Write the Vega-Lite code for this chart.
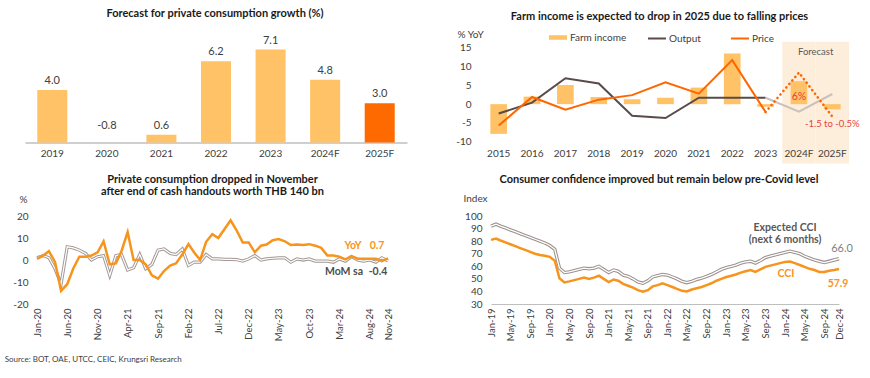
{
  "$schema": "https://vega.github.io/schema/vega-lite/v6.json",
  "padding": {"left": 4, "top": 8, "right": 2, "bottom": 2},
  "background": "white",
  "config": {
    "font": "Lato",
    "view": {"stroke": null},
    "axis": {"labelColor": "#404040", "labelFont": "Lato", "grid": false, "ticks": false, "domain": false, "labelFontSize": 10, "labelOverlap": false, "minExtent": 0},
    "title": {"font": "Lato", "fontSize": 11, "fontWeight": "bold", "color": "#1a1a1a", "anchor": "middle"},
    "legend": {"labelFont": "Lato", "labelFontSize": 10, "labelColor": "#404040"}
  },
  "title": {"text": "Source: BOT,  OAE, UTCC, CEIC,  Krungsri Research", "orient": "bottom", "anchor": "start", "fontSize": 8, "fontWeight": "normal", "color": "#404040", "offset": 15, "dx": -8},
  "spacing": 10,
  "resolve": {"scale": {"color": "independent", "fill": "independent", "stroke": "independent"}, "legend": {"color": "independent", "fill": "independent", "stroke": "independent"}},
  "vconcat": [
    {
      "spacing": 36,
      "resolve": {"scale": {"color": "independent", "fill": "independent", "stroke": "independent"}, "legend": {"color": "independent", "fill": "independent", "stroke": "independent"}},
      "hconcat": [
        {
          "width": 370,
          "height": 98.5,
          "title": {"text": "Forecast for private consumption growth (%)", "offset": 15.5, "dx": -7},
          "data": {"values": [
            {"year": "2019", "value": 4.0, "type": "actual"},
            {"year": "2020", "value": -0.8, "type": "actual"},
            {"year": "2021", "value": 0.6, "type": "actual"},
            {"year": "2022", "value": 6.2, "type": "actual"},
            {"year": "2023", "value": 7.1, "type": "actual"},
            {"year": "2024F", "value": 4.8, "type": "actual"},
            {"year": "2025F", "value": 3.0, "type": "forecast"}
          ]},
          "transform": [
            {"calculate": "max(datum.value, 0.55)", "as": "labelY"},
            {"calculate": "replace(format(datum.value, '.1f'), '\u2212', '-')", "as": "label"}
          ],
          "encoding": {
            "x": {"field": "year", "type": "nominal", "sort": null, "scale": {"paddingInner": 0, "paddingOuter": 0, "range": [-12, 370]},
                  "axis": {"title": null, "labelAngle": 0, "domain": true, "domainColor": "#BFBFBF", "domainWidth": 1.5, "labelPadding": 6}}
          },
          "layer": [
            {
              "mark": {"type": "bar", "width": {"band": 0.55}},
              "encoding": {
                "y": {"field": "value", "type": "quantitative", "scale": {"domain": [0, 7.52], "nice": false, "zero": false, "clamp": true}, "axis": null},
                "color": {"field": "type", "type": "nominal", "scale": {"domain": ["actual", "forecast"], "range": ["#FFC266", "#FF6A00"]}, "legend": null}
              }
            },
            {
              "mark": {"type": "text", "dy": -9, "fontSize": 11, "color": "#404040"},
              "encoding": {
                "y": {"field": "labelY", "type": "quantitative", "axis": null},
                "text": {"field": "label", "type": "nominal"}
              }
            }
          ]
        },
        {
          "width": 367,
          "height": 101.5,
          "title": {"text": "Farm income is expected to drop in 2025 due to falling prices", "offset": 7, "dx": -6},
          "encoding": {
            "x": {"field": "year", "type": "nominal",
                  "scale": {"domain": ["2015", "2016", "2017", "2018", "2019", "2020", "2021", "2022", "2023", "2024F", "2025F"], "paddingInner": 0, "paddingOuter": 0},
                  "axis": {"title": null, "labelAngle": 0, "labelPadding": 3, "zindex": 1}}
          },
          "layer": [
            {
              "data": {"values": [{"year": "2024F"}, {"year": "2025F"}]},
              "mark": {"type": "bar", "width": {"band": 1}, "clip": false, "color": "#FDEEDC"},
              "encoding": {
                "y": {"datum": 16.6, "type": "quantitative", "scale": {"domain": [-11, 16], "nice": false},
                      "axis": {"title": "% YoY", "values": [-10, -5, 0, 5, 10, 15], "tickCount": 20, "labelExpr": "replace(datum.label, '\u2212', '-')", "labelOverlap": false, "titleAngle": 0, "titleX": -25, "titleY": -10, "titleAlign": "left", "titleBaseline": "middle", "titleFontWeight": "normal", "titleFontSize": 10, "titleColor": "#404040", "titleFont": "Lato", "labelPadding": 11}},
                "y2": {"datum": -15.8}
              }
            },
            {
              "data": {"values": [{"year": "2025F"}]},
              "mark": {"type": "text", "fontSize": 9.5, "color": "#595959"},
              "encoding": {
                "x": {"field": "year", "type": "nominal", "bandPosition": 0},
                "y": {"datum": 14},
                "text": {"value": "Forecast"}
              }
            },
            {
              "data": {"values": [{}]},
              "mark": {"type": "rule", "color": "#BFBFBF", "strokeWidth": 1.5},
              "encoding": {"y": {"datum": 0}}
            },
            {
              "data": {"values": [
                {"year": "2015", "v": -7.9, "s": "Farm income"},
                {"year": "2016", "v": 2.0, "s": "Farm income"},
                {"year": "2017", "v": 5.1, "s": "Farm income"},
                {"year": "2018", "v": 1.9, "s": "Farm income"},
                {"year": "2019", "v": 1.3, "s": "Farm income"},
                {"year": "2020", "v": 1.7, "s": "Farm income"},
                {"year": "2021", "v": 4.4, "s": "Farm income"},
                {"year": "2022", "v": 13.5, "s": "Farm income"},
                {"year": "2023", "v": -0.7, "s": "Farm income"},
                {"year": "2024F", "v": 6.1, "s": "Farm income"},
                {"year": "2025F", "v": -1.4, "s": "Farm income"}
              ]},
              "layer": [
                {
                  "mark": {"type": "bar", "width": {"band": 0.5}},
                  "encoding": {
                    "y": {"field": "v", "type": "quantitative"},
                    "fill": {"field": "s", "type": "nominal", "scale": {"domain": ["Farm income"], "range": ["#FFC266"]},
                             "legend": {"title": null, "orient": "none", "legendX": 67, "legendY": -15.5, "direction": "horizontal", "symbolType": "M-1,-0.25H1V0.25H-1Z", "symbolSize": 324, "symbolStrokeWidth": 0, "labelOffset": 3}}
                  }
                },
                {
                  "transform": [{"filter": "datum.year == '2024F'"}],
                  "mark": {"type": "text", "dy": 16, "fontSize": 10.5, "color": "#E0443A"},
                  "encoding": {"y": {"field": "v", "type": "quantitative"}, "text": {"value": "6%"}}
                },
                {
                  "transform": [{"filter": "datum.year == '2025F'"}],
                  "mark": {"type": "text", "dy": 15, "fontSize": 9.5, "color": "#E8423F"},
                  "encoding": {"y": {"field": "v", "type": "quantitative"}, "text": {"value": "-1.5 to -0.5%"}}
                }
              ]
            },
            {
              "data": {"values": [
                {"year": "2015", "series": "Output", "v": -2.5},
                {"year": "2016", "series": "Output", "v": 0.4},
                {"year": "2017", "series": "Output", "v": 6.9},
                {"year": "2018", "series": "Output", "v": 5.5},
                {"year": "2019", "series": "Output", "v": -3.1},
                {"year": "2020", "series": "Output", "v": -3.7},
                {"year": "2021", "series": "Output", "v": 1.7},
                {"year": "2022", "series": "Output", "v": 1.7},
                {"year": "2023", "series": "Output", "v": 1.7},
                {"year": "2015", "series": "Price", "v": -5.7},
                {"year": "2016", "series": "Price", "v": 1.9},
                {"year": "2017", "series": "Price", "v": -1.5},
                {"year": "2018", "series": "Price", "v": 1.2},
                {"year": "2019", "series": "Price", "v": 2.4},
                {"year": "2020", "series": "Price", "v": 5.8},
                {"year": "2021", "series": "Price", "v": 2.8},
                {"year": "2022", "series": "Price", "v": 11.7},
                {"year": "2023", "series": "Price", "v": -2.1}
              ]},
              "mark": {"type": "line", "strokeWidth": 2},
              "encoding": {
                "y": {"field": "v", "type": "quantitative"},
                "stroke": {"field": "series", "type": "nominal", "scale": {"domain": ["Output", "Price"], "range": ["#5A4B4B", "#FF6600"]},
                           "legend": {"title": null, "orient": "none", "legendX": 165, "legendY": -15.5, "direction": "horizontal", "symbolType": "stroke", "symbolSize": 324, "symbolStrokeWidth": 2, "labelOffset": 2, "columnPadding": 26}}
              }
            },
            {
              "data": {"values": [
                {"year": "2023", "v": 1.7},
                {"year": "2024F", "v": -2.0},
                {"year": "2025F", "v": 2.7}
              ]},
              "mark": {"type": "line", "strokeWidth": 2, "color": "#CBC1BB"},
              "encoding": {"y": {"field": "v", "type": "quantitative"}}
            },
            {
              "data": {"values": [
                {"year": "2023", "v": -2.1},
                {"year": "2024F", "v": 8.4},
                {"year": "2025F", "v": -3.3}
              ]},
              "mark": {"type": "line", "strokeWidth": 2.6, "color": "#FF6600", "strokeDash": [0.1, 4.5], "strokeCap": "round"},
              "encoding": {"y": {"field": "v", "type": "quantitative"}}
            }
          ]
        }
      ]
    },
    {
      "spacing": 68,
      "hconcat": [
        {
          "width": 351,
          "height": 88,
          "title": {"text": ["Private consumption dropped in November", "after end of cash handouts worth THB 140 bn"], "offset": -3, "lineHeight": 12},
          "data": {"values": [
            {"d": "2020/01/01", "yoy": 0.5, "mom": 1},
            {"d": "2020/02/01", "yoy": 2, "mom": 2},
            {"d": "2020/03/01", "yoy": 4, "mom": 1},
            {"d": "2020/04/01", "yoy": -1, "mom": -4},
            {"d": "2020/05/01", "yoy": -14, "mom": -11},
            {"d": "2020/06/01", "yoy": -11, "mom": 6},
            {"d": "2020/07/01", "yoy": -4, "mom": 5.5},
            {"d": "2020/08/01", "yoy": 1.5, "mom": 4.5},
            {"d": "2020/09/01", "yoy": 1.5, "mom": 3},
            {"d": "2020/10/01", "yoy": 2, "mom": 0},
            {"d": "2020/11/01", "yoy": 3.5, "mom": 1.5},
            {"d": "2020/12/01", "yoy": 8.5, "mom": 2},
            {"d": "2021/01/01", "yoy": -2, "mom": -7},
            {"d": "2021/02/01", "yoy": -1.5, "mom": 2},
            {"d": "2021/03/01", "yoy": 4, "mom": 2.5},
            {"d": "2021/04/01", "yoy": 12.7, "mom": -4.5},
            {"d": "2021/05/01", "yoy": 0, "mom": -3.5},
            {"d": "2021/06/01", "yoy": 0, "mom": 2.5},
            {"d": "2021/07/01", "yoy": -2, "mom": -4},
            {"d": "2021/08/01", "yoy": -7, "mom": -2},
            {"d": "2021/09/01", "yoy": -8.5, "mom": 4.5},
            {"d": "2021/10/01", "yoy": -5, "mom": 5},
            {"d": "2021/11/01", "yoy": -2.5, "mom": 3},
            {"d": "2021/12/01", "yoy": -1.5, "mom": 2.5},
            {"d": "2022/01/01", "yoy": 2.5, "mom": 5},
            {"d": "2022/02/01", "yoy": 7.2, "mom": -2.5},
            {"d": "2022/03/01", "yoy": 3.5, "mom": -1},
            {"d": "2022/04/01", "yoy": 0, "mom": -1},
            {"d": "2022/05/01", "yoy": 8.3, "mom": 2.5},
            {"d": "2022/06/01", "yoy": 11.7, "mom": 0.5},
            {"d": "2022/07/01", "yoy": 10, "mom": 0.5},
            {"d": "2022/08/01", "yoy": 14, "mom": 0.3},
            {"d": "2022/09/01", "yoy": 18, "mom": 0.3},
            {"d": "2022/10/01", "yoy": 13.5, "mom": 0.2},
            {"d": "2022/11/01", "yoy": 8, "mom": -0.5},
            {"d": "2022/12/01", "yoy": 8, "mom": 0.5},
            {"d": "2023/01/01", "yoy": 3.5, "mom": 2},
            {"d": "2023/02/01", "yoy": 6.5, "mom": 0},
            {"d": "2023/03/01", "yoy": 7, "mom": 0.5},
            {"d": "2023/04/01", "yoy": 9, "mom": 0.8},
            {"d": "2023/05/01", "yoy": 9.5, "mom": 1},
            {"d": "2023/06/01", "yoy": 8.5, "mom": 1},
            {"d": "2023/07/01", "yoy": 6.8, "mom": -1},
            {"d": "2023/08/01", "yoy": 7, "mom": 0.5},
            {"d": "2023/09/01", "yoy": 6.8, "mom": 0},
            {"d": "2023/10/01", "yoy": 7.2, "mom": 0.5},
            {"d": "2023/11/01", "yoy": 6.5, "mom": -0.5},
            {"d": "2023/12/01", "yoy": 5.5, "mom": -0.5},
            {"d": "2024/01/01", "yoy": 2, "mom": -0.5},
            {"d": "2024/02/01", "yoy": 2, "mom": -1},
            {"d": "2024/03/01", "yoy": 1.5, "mom": 0.5},
            {"d": "2024/04/01", "yoy": 0.3, "mom": -0.5},
            {"d": "2024/05/01", "yoy": 1.8, "mom": 1.5},
            {"d": "2024/06/01", "yoy": 0.6, "mom": 0},
            {"d": "2024/07/01", "yoy": 0.6, "mom": -0.5},
            {"d": "2024/08/01", "yoy": 0.6, "mom": 0},
            {"d": "2024/09/01", "yoy": 0.6, "mom": -1},
            {"d": "2024/10/01", "yoy": -0.5, "mom": 1},
            {"d": "2024/11/01", "yoy": 0.7, "mom": -0.4}
          ]},
          "transform": [
            {"calculate": "replace(format(datum.yoy, '.1f'), '\u2212', '-')", "as": "yoyLabel"},
            {"calculate": "replace(format(datum.mom, '.1f'), '\u2212', '-')", "as": "momLabel"}
          ],
          "encoding": {
            "x": {"field": "d", "type": "temporal",
                  "scale": {"domain": [{"year": 2020, "month": 1, "date": 1}, {"year": 2024, "month": 11, "date": 1}]},
                  "axis": {"title": null, "format": "%b-%y", "labelAngle": -90, "labelPadding": 4, "labelFontSize": 9.5, "labelOverlap": false, "tickCount": 60,
                           "values": [
                             {"year": 2020, "month": 1, "date": 1}, {"year": 2020, "month": 6, "date": 1}, {"year": 2020, "month": 11, "date": 1},
                             {"year": 2021, "month": 4, "date": 1}, {"year": 2021, "month": 9, "date": 1}, {"year": 2022, "month": 2, "date": 1},
                             {"year": 2022, "month": 7, "date": 1}, {"year": 2022, "month": 12, "date": 1}, {"year": 2023, "month": 5, "date": 1},
                             {"year": 2023, "month": 10, "date": 1}, {"year": 2024, "month": 3, "date": 1}, {"year": 2024, "month": 8, "date": 1},
                             {"year": 2024, "month": 11, "date": 1}
                           ]}}
          },
          "layer": [
            {
              "data": {"values": [{}]},
              "mark": {"type": "rule", "color": "#A6A6A6", "strokeWidth": 1.5},
              "encoding": {"y": {"datum": 0, "type": "quantitative", "scale": {"domain": [-20, 20], "nice": false},
                      "axis": {"title": "%", "values": [-20, -10, 0, 10, 20], "tickCount": 20, "labelExpr": "replace(datum.label, '\u2212', '-')", "labelOverlap": false, "titleAngle": 0, "titleX": -18, "titleY": -17, "titleAlign": "left", "titleBaseline": "middle", "titleFontWeight": "normal", "titleFontSize": 10, "titleColor": "#404040", "titleFont": "Lato", "labelPadding": 9}}}
            },
            {
              "mark": {"type": "line", "color": "#A39894", "strokeWidth": 3.2},
              "encoding": {"y": {"field": "mom", "type": "quantitative"}}
            },
            {
              "mark": {"type": "line", "color": "white", "strokeWidth": 1.2},
              "encoding": {"y": {"field": "mom", "type": "quantitative"}}
            },
            {
              "mark": {"type": "line", "color": "#F7941D", "strokeWidth": 2.5},
              "encoding": {"y": {"field": "yoy", "type": "quantitative"}}
            },
            {
              "transform": [{"filter": {"field": "d", "equal": {"year": 2024, "month": 11, "date": 1}}}],
              "layer": [
                {"mark": {"type": "text", "dx": -35, "dy": -12, "fontWeight": "bold", "fontSize": 10.5, "color": "#F7941D"},
                 "encoding": {"y": {"field": "yoy", "type": "quantitative"}, "text": {"value": "YoY"}}},
                {"mark": {"type": "text", "dx": -11, "dy": -12, "fontWeight": "bold", "fontSize": 10.5, "color": "#F7941D"},
                 "encoding": {"y": {"field": "yoy", "type": "quantitative"}, "text": {"field": "yoyLabel", "type": "nominal"}}},
                {"mark": {"type": "text", "dx": -44, "dy": 11, "fontWeight": "bold", "fontSize": 10.5, "color": "#4D4D4D"},
                 "encoding": {"y": {"field": "mom", "type": "quantitative"}, "text": {"value": "MoM sa"}}},
                {"mark": {"type": "text", "dx": -10, "dy": 11, "fontWeight": "bold", "fontSize": 10.5, "color": "#4D4D4D"},
                 "encoding": {"y": {"field": "mom", "type": "quantitative"}, "text": {"field": "momLabel", "type": "nominal"}}}
              ]
            }
          ]
        },
        {
          "width": 348,
          "height": 88,
          "title": {"text": "Consumer confidence improved but remain below pre-Covid level", "offset": 8, "dx": -6},
          "data": {"values": [
            {"d": "2019/01/01", "cci": 81, "exp": 92},
            {"d": "2019/02/01", "cci": 82, "exp": 93.5},
            {"d": "2019/03/01", "cci": 80.5, "exp": 92},
            {"d": "2019/04/01", "cci": 79, "exp": 90.5},
            {"d": "2019/05/01", "cci": 77.5, "exp": 89},
            {"d": "2019/06/01", "cci": 76, "exp": 87.5},
            {"d": "2019/07/01", "cci": 74.5, "exp": 86},
            {"d": "2019/08/01", "cci": 73, "exp": 84.5},
            {"d": "2019/09/01", "cci": 71.5, "exp": 83},
            {"d": "2019/10/01", "cci": 70, "exp": 81.5},
            {"d": "2019/11/01", "cci": 69, "exp": 80},
            {"d": "2019/12/01", "cci": 68.3, "exp": 78.5},
            {"d": "2020/01/01", "cci": 67.5, "exp": 76.5},
            {"d": "2020/02/01", "cci": 64.5, "exp": 73.5},
            {"d": "2020/03/01", "cci": 50.5, "exp": 58.5},
            {"d": "2020/04/01", "cci": 47.2, "exp": 55},
            {"d": "2020/05/01", "cci": 48, "exp": 55.5},
            {"d": "2020/06/01", "cci": 49, "exp": 56.5},
            {"d": "2020/07/01", "cci": 50, "exp": 57.5},
            {"d": "2020/08/01", "cci": 51, "exp": 58.5},
            {"d": "2020/09/01", "cci": 50, "exp": 58},
            {"d": "2020/10/01", "cci": 51, "exp": 58.5},
            {"d": "2020/11/01", "cci": 52.5, "exp": 60},
            {"d": "2020/12/01", "cci": 50, "exp": 57.5},
            {"d": "2021/01/01", "cci": 47.5, "exp": 55},
            {"d": "2021/02/01", "cci": 49.5, "exp": 57},
            {"d": "2021/03/01", "cci": 48.5, "exp": 56},
            {"d": "2021/04/01", "cci": 46, "exp": 53},
            {"d": "2021/05/01", "cci": 44.5, "exp": 52},
            {"d": "2021/06/01", "cci": 43, "exp": 50},
            {"d": "2021/07/01", "cci": 41, "exp": 47.5},
            {"d": "2021/08/01", "cci": 39.8, "exp": 46.5},
            {"d": "2021/09/01", "cci": 41, "exp": 48.5},
            {"d": "2021/10/01", "cci": 44, "exp": 51.5},
            {"d": "2021/11/01", "cci": 45, "exp": 52.5},
            {"d": "2021/12/01", "cci": 46.5, "exp": 53.5},
            {"d": "2022/01/01", "cci": 45, "exp": 53},
            {"d": "2022/02/01", "cci": 43.5, "exp": 51.5},
            {"d": "2022/03/01", "cci": 42, "exp": 50},
            {"d": "2022/04/01", "cci": 40.5, "exp": 48},
            {"d": "2022/05/01", "cci": 40, "exp": 47},
            {"d": "2022/06/01", "cci": 41.5, "exp": 48},
            {"d": "2022/07/01", "cci": 42.5, "exp": 49.5},
            {"d": "2022/08/01", "cci": 43.5, "exp": 50.5},
            {"d": "2022/09/01", "cci": 45, "exp": 52},
            {"d": "2022/10/01", "cci": 46.5, "exp": 53.5},
            {"d": "2022/11/01", "cci": 48.5, "exp": 55.5},
            {"d": "2022/12/01", "cci": 50, "exp": 57.5},
            {"d": "2023/01/01", "cci": 51.5, "exp": 59},
            {"d": "2023/02/01", "cci": 52.5, "exp": 60},
            {"d": "2023/03/01", "cci": 53.5, "exp": 61},
            {"d": "2023/04/01", "cci": 55, "exp": 62.5},
            {"d": "2023/05/01", "cci": 56, "exp": 63.5},
            {"d": "2023/06/01", "cci": 57, "exp": 64},
            {"d": "2023/07/01", "cci": 55.5, "exp": 62.5},
            {"d": "2023/08/01", "cci": 57.5, "exp": 64.5},
            {"d": "2023/09/01", "cci": 59.5, "exp": 67},
            {"d": "2023/10/01", "cci": 60.5, "exp": 68},
            {"d": "2023/11/01", "cci": 61.5, "exp": 69},
            {"d": "2023/12/01", "cci": 62.5, "exp": 70},
            {"d": "2024/01/01", "cci": 63.5, "exp": 71},
            {"d": "2024/02/01", "cci": 63.8, "exp": 72},
            {"d": "2024/03/01", "cci": 62.5, "exp": 71},
            {"d": "2024/04/01", "cci": 61, "exp": 70},
            {"d": "2024/05/01", "cci": 59.5, "exp": 68},
            {"d": "2024/06/01", "cci": 58, "exp": 66.5},
            {"d": "2024/07/01", "cci": 57, "exp": 65},
            {"d": "2024/08/01", "cci": 55.5, "exp": 64},
            {"d": "2024/09/01", "cci": 55.5, "exp": 63},
            {"d": "2024/10/01", "cci": 56.5, "exp": 64},
            {"d": "2024/11/01", "cci": 57, "exp": 65},
            {"d": "2024/12/01", "cci": 57.9, "exp": 66.0}
          ]},
          "encoding": {
            "x": {"field": "d", "type": "temporal",
                  "scale": {"domain": [{"year": 2019, "month": 1, "date": 1}, {"year": 2024, "month": 12, "date": 1}]},
                  "axis": {"title": null, "format": "%b-%y", "labelAngle": -90, "labelPadding": 4, "labelFontSize": 9.5, "labelOverlap": false, "tickCount": 80, "domain": true, "domainColor": "#BFBFBF",
                           "values": [
                             {"year": 2019, "month": 1, "date": 1}, {"year": 2019, "month": 5, "date": 1}, {"year": 2019, "month": 9, "date": 1},
                             {"year": 2020, "month": 1, "date": 1}, {"year": 2020, "month": 5, "date": 1}, {"year": 2020, "month": 9, "date": 1},
                             {"year": 2021, "month": 1, "date": 1}, {"year": 2021, "month": 5, "date": 1}, {"year": 2021, "month": 9, "date": 1},
                             {"year": 2022, "month": 1, "date": 1}, {"year": 2022, "month": 5, "date": 1}, {"year": 2022, "month": 9, "date": 1},
                             {"year": 2023, "month": 1, "date": 1}, {"year": 2023, "month": 5, "date": 1}, {"year": 2023, "month": 9, "date": 1},
                             {"year": 2024, "month": 1, "date": 1}, {"year": 2024, "month": 5, "date": 1}, {"year": 2024, "month": 9, "date": 1},
                             {"year": 2024, "month": 12, "date": 1}
                           ]}}
          },
          "layer": [
            {
              "mark": {"type": "line", "color": "#9C918D", "strokeWidth": 3.4},
              "encoding": {
                "y": {"field": "exp", "type": "quantitative", "scale": {"domain": [30, 100], "nice": false},
                      "axis": {"title": "Index", "values": [30, 40, 50, 60, 70, 80, 90, 100], "tickCount": 20, "labelOverlap": false, "titleAngle": 0, "titleX": -28, "titleY": -18, "titleAlign": "left", "titleBaseline": "middle", "titleFontWeight": "normal", "titleFontSize": 10, "titleColor": "#404040", "titleFont": "Lato", "labelPadding": 9}}
              }
            },
            {
              "mark": {"type": "line", "color": "white", "strokeWidth": 1.3},
              "encoding": {"y": {"field": "exp", "type": "quantitative"}}
            },
            {
              "mark": {"type": "line", "color": "#F7941D", "strokeWidth": 2.5},
              "encoding": {"y": {"field": "cci", "type": "quantitative"}}
            },
            {
              "transform": [{"filter": {"field": "d", "equal": {"year": 2024, "month": 12, "date": 1}}}],
              "layer": [
                {"mark": {"type": "text", "dx": -54, "dy": -31, "fontWeight": "bold", "fontSize": 10.5, "color": "#595959"},
                 "encoding": {"y": {"field": "exp", "type": "quantitative"}, "text": {"value": "Expected CCI"}}},
                {"mark": {"type": "text", "dx": -54, "dy": -19, "fontWeight": "bold", "fontSize": 10.5, "color": "#595959"},
                 "encoding": {"y": {"field": "exp", "type": "quantitative"}, "text": {"value": "(next 6 months)"}}},
                {"mark": {"type": "text", "dx": 3, "dy": -10, "fontSize": 11, "color": "#7F7F7F"},
                 "encoding": {"y": {"field": "exp", "type": "quantitative"}, "text": {"field": "exp", "type": "quantitative", "format": ".1f"}}},
                {"mark": {"type": "text", "dx": -53, "dy": 5, "fontWeight": "bold", "fontSize": 10.5, "color": "#F7941D"},
                 "encoding": {"y": {"field": "cci", "type": "quantitative"}, "text": {"value": "CCI"}}},
                {"mark": {"type": "text", "dx": -1, "dy": 15, "fontWeight": "bold", "fontSize": 10.5, "color": "#F7941D"},
                 "encoding": {"y": {"field": "cci", "type": "quantitative"}, "text": {"field": "cci", "type": "quantitative", "format": ".1f"}}}
              ]
            }
          ]
        }
      ]
    }
  ]
}
